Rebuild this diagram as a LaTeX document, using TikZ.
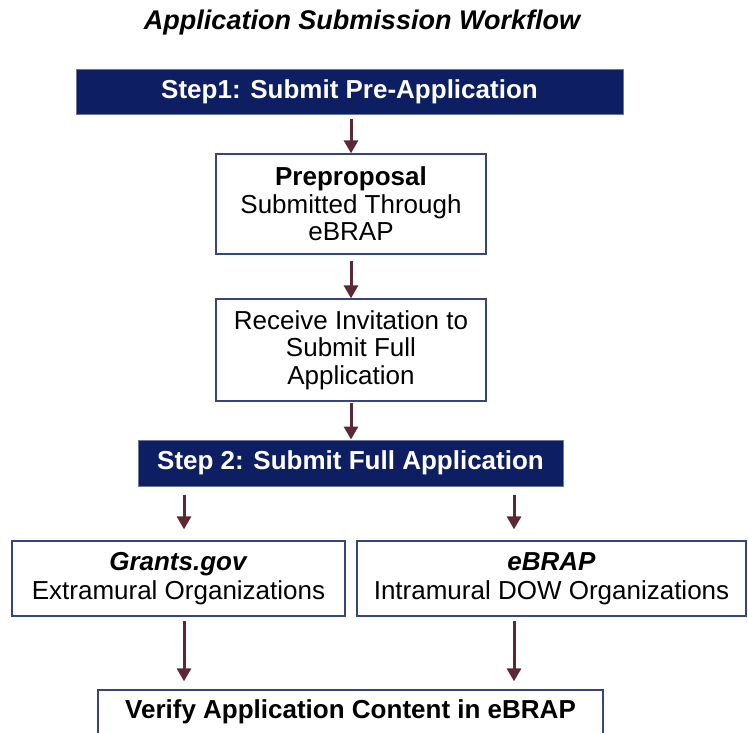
\documentclass[tikz,border=0pt]{standalone}
\usepackage{fontspec}
\setmainfont{Liberation Sans}
\usetikzlibrary{arrows.meta}
\definecolor{navy}{HTML}{0D1E63}
\definecolor{barline}{HTML}{6C7898}
\definecolor{boxline}{HTML}{34457F}
\definecolor{arrowc}{HTML}{5C2833}
\begin{document}
\begin{tikzpicture}[x=1pt,y=-1pt,
  bar/.style={draw=barline, line width=1pt, fill=navy, text=white,
    font=\fontsize{26}{30}\selectfont\bfseries, inner sep=0pt},
  stepbox/.style={draw=boxline, line width=1.3pt, fill=white, text=black,
    font=\fontsize{26}{27.5}\selectfont, inner sep=0pt, align=center},
  widebox/.style={stepbox, font=\fontsize{26}{29}\selectfont},
  arr/.style={draw=arrowc, line width=3pt,
    -{Triangle[width=14pt,length=13pt]}}]
\useasboundingbox (0,0) rectangle (748,732);
\clip (0,0) rectangle (748,732);

\node[font=\fontsize{27}{30}\selectfont\bfseries\itshape] (title) at (362,23) {Application Submission Workflow};

\node[bar, minimum width=547pt, minimum height=45pt] (step1) at (349.5,91.5) {Step1: Submit Pre-Application};
\node[stepbox, minimum width=270pt, minimum height=100pt] (pre) at (351,204)
  {\textbf{Preproposal}\\Submitted Through\\eBRAP};
\node[stepbox, minimum width=270pt, minimum height=102pt] (inv) at (351,350)
  {Receive Invitation to\\Submit Full\\Application};
\node[bar, minimum width=425pt, minimum height=46pt] (step2) at (350.5,463) {Step 2: Submit Full Application};
\node[widebox, minimum width=333pt, minimum height=75pt] (grants) at (178.5,578.5)
  {\textbf{\itshape Grants.gov}\\Extramural Organizations};
\node[widebox, minimum width=389pt, minimum height=75pt] (ebrap) at (551.5,578.5)
  {\textbf{\itshape eBRAP}\\Intramural DOW Organizations};
\node[stepbox, font=\fontsize{26}{30}\selectfont\bfseries, minimum width=505pt, minimum height=44pt] (verify) at (350.5,712)
  {Verify Application Content in eBRAP};

\coordinate (c1) at (184,0);
\coordinate (c2) at (514,0);

\draw[arr, shorten <=4pt] (pre.north |- step1.south) -- (pre.north);
\draw[arr, shorten <=6pt] (pre.south) -- (inv.north);
\draw[arr, shorten <=1pt] (inv.south) -- (inv.south |- step2.north);
\draw[arr, shorten <=8pt, shorten >=11pt] (step2.south -| c1) -- (grants.north -| c1);
\draw[arr, shorten <=8pt, shorten >=11pt] (step2.south -| c2) -- (ebrap.north -| c2);
\draw[arr, shorten <=4pt, shorten >=8pt] (grants.south -| c1) -- (verify.north -| c1);
\draw[arr, shorten <=4pt, shorten >=8pt] (ebrap.south -| c2) -- (verify.north -| c2);
\end{tikzpicture}
\end{document}
